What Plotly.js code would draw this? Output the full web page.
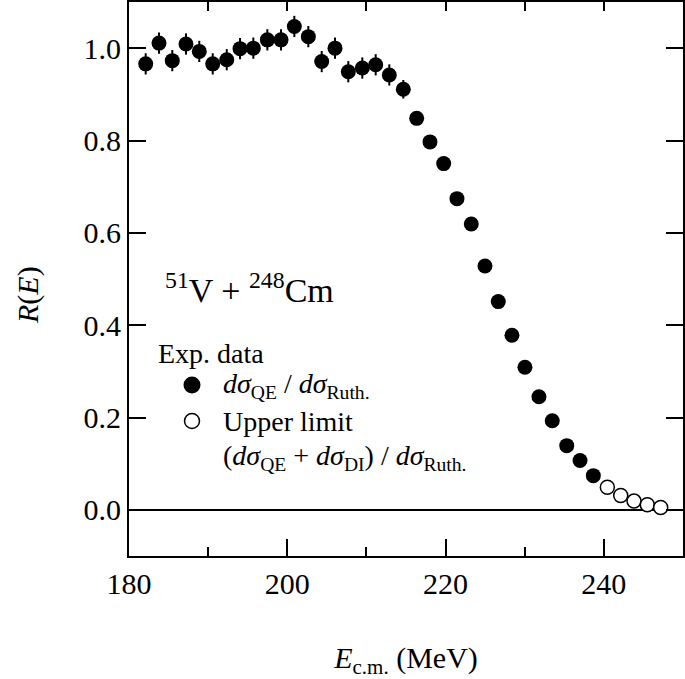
<!DOCTYPE html>
<html>
<head>
<meta charset="utf-8">
<script src="https://cdn.plot.ly/plotly-3.0.1.min.js"></script>
<style>html,body{margin:0;padding:0;background:#fff}#chart{width:685px;height:679px}</style>
</head>
<body>
<div id="chart"></div>
<script>
// Quasi-elastic / Rutherford ratio, filled points
var energyQE = [182.11,183.79,185.47,187.20,188.88,190.58,192.35,194.03,195.71,197.48,199.21,200.89,202.66,204.35,206.03,207.71,209.48,211.17,212.89,214.66,216.35,218.03,219.76,221.44,223.25,224.98,226.66,228.39,230.03,231.80,233.48,235.31,236.99,238.67];
var ratioQE = [0.966,1.011,0.973,1.009,0.993,0.966,0.975,0.999,1.000,1.018,1.018,1.047,1.025,0.971,1.000,0.949,0.957,0.964,0.942,0.911,0.848,0.797,0.750,0.674,0.619,0.528,0.451,0.378,0.309,0.245,0.193,0.139,0.107,0.074];
var errorQE = [0.023,0.023,0.023,0.023,0.023,0.023,0.023,0.023,0.023,0.023,0.023,0.023,0.023,0.023,0.023,0.023,0.023,0.023,0.023,0.020,0.012,0.012,0.012,0.012,0.012,0.012,0.012,0.012,0.010,0.010,0.010,0.010,0.010,0.010];
// Upper limits, open points
var energyUL = [240.44,242.13,243.81,245.49,247.18];
var ratioUL = [0.049,0.031,0.019,0.011,0.005];

var xTickVals = [180,200,220,240];
var yTickVals = [0.0,0.2,0.4,0.6,0.8,1.0];
var yTickText = ['0.0','0.2','0.4','0.6','0.8','1.0'];

var serif = "'Liberation Serif', 'Times New Roman', serif";

var traces = [
  {x: energyQE, y: ratioQE, type: 'scatter', mode: 'markers', name: 'dσQE/dσRuth.',
   marker: {color: '#000', size: 15, line: {width: 0}},
   error_y: {type: 'data', array: errorQE, visible: true, color: '#000', thickness: 2, width: 0},
   cliponaxis: false},
  {x: energyUL, y: ratioUL, type: 'scatter', mode: 'markers', name: 'Upper limit',
   marker: {color: '#fff', size: 14, symbol: 'circle', line: {color: '#000', width: 1.5}},
   cliponaxis: false},
  {x: [], y: [], xaxis: 'x2', yaxis: 'y', type: 'scatter', showlegend: false}
];

var layout = {
  width: 685, height: 679,
  margin: {l: 129, r: 2, t: 2, b: 123},
  paper_bgcolor: '#fff', plot_bgcolor: '#fff',
  showlegend: false,
  font: {family: serif, size: 30, color: '#000'},
  xaxis: {
    range: [180, 250], tickvals: xTickVals, ticktext: xTickVals.map(String),
    ticks: 'inside', ticklen: 17, tickwidth: 2, tickcolor: '#000',
    minor: {tickvals: [190,210,230,250], ticks: 'inside', ticklen: 9, tickwidth: 2, tickcolor: '#000', showgrid: false},
    showline: true, linewidth: 2, linecolor: '#000', mirror: true,
    showgrid: false, zeroline: false,
    tickfont: {family: serif, size: 30, color: '#000'},
    title: {text: '<i>E</i><sub>c.m.</sub> (MeV)', font: {family: serif, size: 30, color: '#000'}, standoff: 48},
    automargin: false
  },
  xaxis2: {
    range: [180, 250], overlaying: 'x', side: 'top', dtick: 10, tick0: 180,
    ticks: 'inside', ticklen: 9, tickwidth: 2, tickcolor: '#000',
    showticklabels: false, showgrid: false, zeroline: false, showline: false
  },
  yaxis: {
    range: [-0.1, 1.1], tickvals: yTickVals, ticktext: yTickText,
    ticks: 'inside', ticklen: 17, tickwidth: 2, tickcolor: '#000',
    showline: true, linewidth: 2, linecolor: '#000', mirror: 'ticks',
    showgrid: false, zeroline: true, zerolinecolor: '#000', zerolinewidth: 2,
    tickfont: {family: serif, size: 30, color: '#000'},
    automargin: false
  },
  annotations: [
    {xref: 'paper', yref: 'paper', x: (28-129)/554, y: (556-295)/554, xanchor: 'center', yanchor: 'middle', showarrow: false,
     textangle: -90, text: '<i>R</i>(<i>E</i>)', font: {family: serif, size: 30, color: '#000'}},
    {xref: 'paper', yref: 'paper', x: (163-129)/554, y: (556-288)/554, xanchor: 'left', yanchor: 'middle', showarrow: false,
     text: '<sup>51</sup>V + <sup>248</sup>Cm', font: {family: serif, size: 34, color: '#000'}},
    {xref: 'paper', yref: 'paper', x: (156-129)/554, y: (556-353)/554, xanchor: 'left', yanchor: 'middle', showarrow: false,
     text: 'Exp. data', font: {family: serif, size: 28, color: '#000'}},
    {xref: 'paper', yref: 'paper', x: (221-129)/554, y: (556-385)/554, xanchor: 'left', yanchor: 'middle', showarrow: false,
     text: '<i>dσ</i><sub>QE</sub> / <i>dσ</i><sub>Ruth.</sub>', font: {family: serif, size: 28, color: '#000'}},
    {xref: 'paper', yref: 'paper', x: (221-129)/554, y: (556-421)/554, xanchor: 'left', yanchor: 'middle', showarrow: false,
     text: 'Upper limit', font: {family: serif, size: 28, color: '#000'}},
    {xref: 'paper', yref: 'paper', x: (221-129)/554, y: (556-457)/554, xanchor: 'left', yanchor: 'middle', showarrow: false,
     text: '(<i>dσ</i><sub>QE</sub> + <i>dσ</i><sub>DI</sub>) / <i>dσ</i><sub>Ruth.</sub>', font: {family: serif, size: 28, color: '#000'}}
  ],
  shapes: [
    {type: 'circle', xref: 'paper', yref: 'paper', xsizemode: 'pixel', ysizemode: 'pixel',
     xanchor: (192-129)/554, yanchor: (556-385)/554, x0: -8.5, x1: 8.5, y0: -8.5, y1: 8.5,
     fillcolor: '#000', line: {width: 0}},
    {type: 'circle', xref: 'paper', yref: 'paper', xsizemode: 'pixel', ysizemode: 'pixel',
     xanchor: (192-129)/554, yanchor: (556-421)/554, x0: -7.5, x1: 7.5, y0: -7.5, y1: 7.5,
     fillcolor: '#fff', line: {color: '#000', width: 1.5}}
  ]
};

Plotly.newPlot('chart', traces, layout, {displayModeBar: false, staticPlot: true});
</script>
</body>
</html>
